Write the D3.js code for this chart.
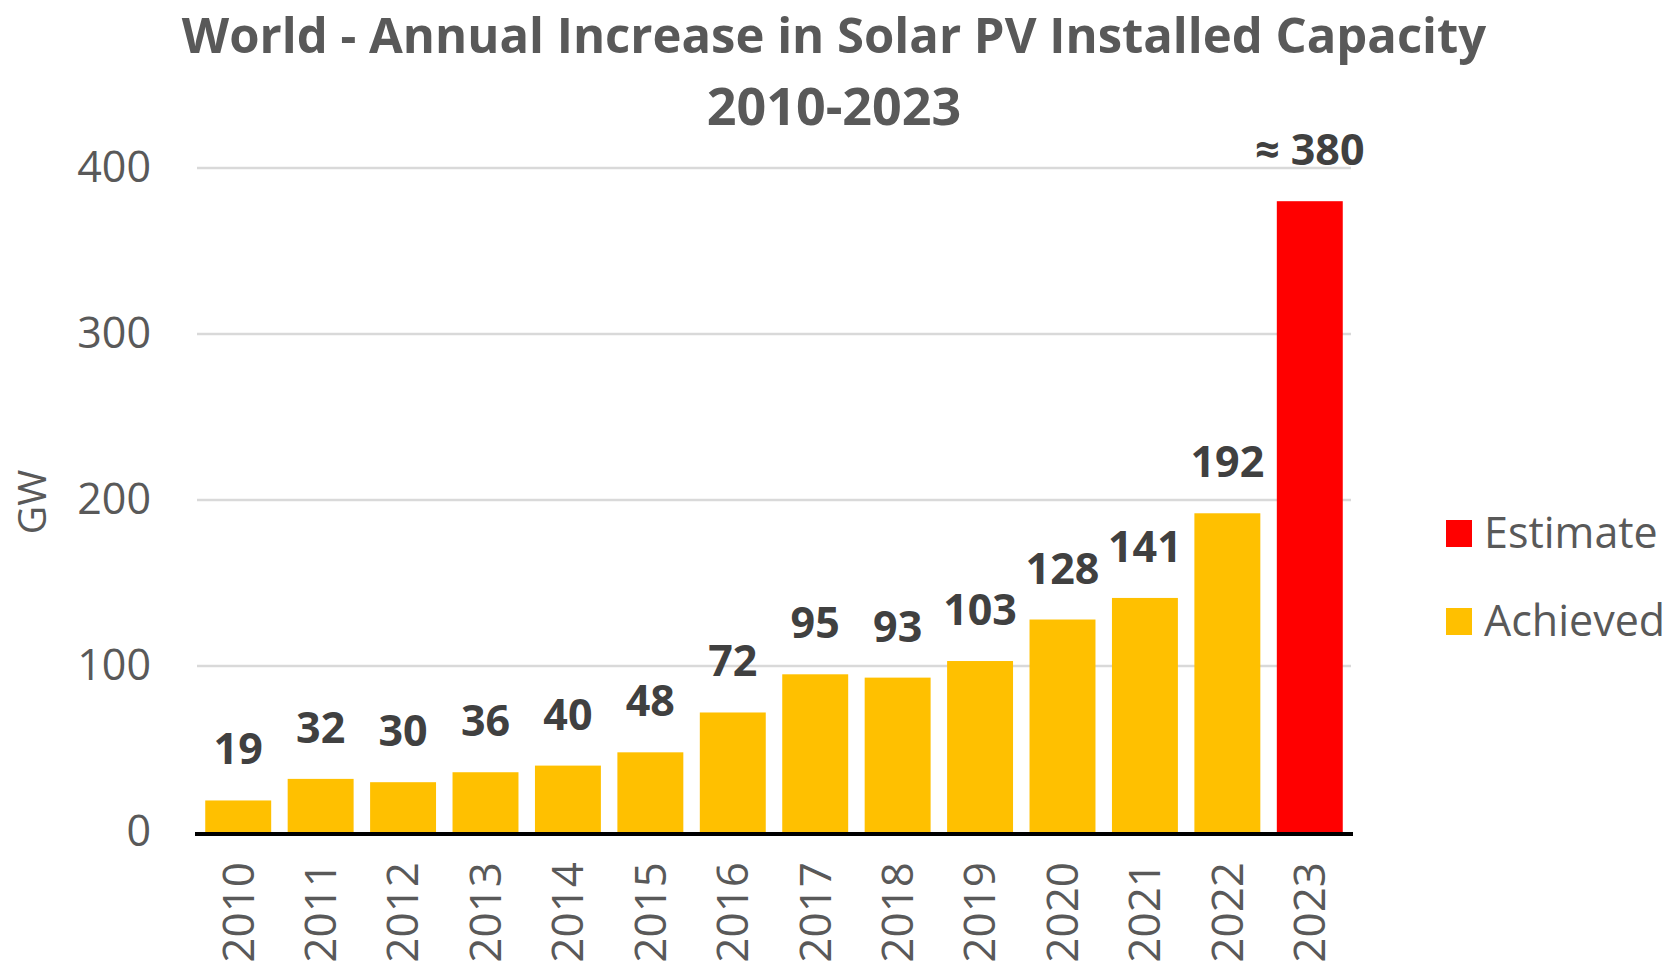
<!DOCTYPE html>
<html>
<head>
<meta charset="utf-8">
<script src="https://cdn.jsdelivr.net/npm/d3@7"></script>
<style>
  body { margin: 0; background: #fff; }
  svg { display: block; }
  text { font-family: "Open Sans", "Noto Sans", sans-serif; }
</style>
</head>
<body>
<div id="chart"></div>
<script>
// dados
const years = ["2010", "2011", "2012", "2013", "2014", "2015", "2016", "2017", "2018", "2019", "2020", "2021", "2022", "2023"];
const capacity = [19, 32, 30, 36, 40, 48, 72, 95, 93, 103, 128, 141, 192, 380];
const status = ["Achieved", "Achieved", "Achieved", "Achieved", "Achieved", "Achieved", "Achieved",
                "Achieved", "Achieved", "Achieved", "Achieved", "Achieved", "Achieved", "Estimate"];
const valueLabels = ["19", "32", "30", "36", "40", "48", "72", "95", "93", "103", "128", "141", "192", "≈ 380"];
const yTicks = [0, 100, 200, 300, 400];
const legendItems = ["Estimate", "Achieved"];
const titleLines = ["World - Annual Increase in Solar PV Installed Capacity", "2010-2023"];

const width = 1667, height = 963;
const colors = { Achieved: "#FFC000", Estimate: "#FF0000" };

const svg = d3.select("#chart").append("svg")
    .attr("width", width)
    .attr("height", height);

const x = d3.scaleBand()
    .domain(years)
    .range([197, 1351])
    .paddingInner(0.2)
    .paddingOuter(0.1);

const y = d3.scaleLinear()
    .domain([0, 400])
    .range([832, 168]);

// Título
svg.selectAll("text.title")
    .data(titleLines)
    .enter().append("text")
    .attr("class", "title")
    .attr("x", 834)
    .attr("y", (d, i) => 53 + i * 72)
    .attr("text-anchor", "middle")
    .attr("font-size", (d, i) => i === 0 ? 49 : 52)
    .attr("font-weight", "bold")
    .attr("fill", "#595959")
    .text(d => d);

// Grade horizontal
svg.selectAll("line.grid")
    .data(yTicks.filter(d => d > 0))
    .enter().append("line")
    .attr("class", "grid")
    .attr("x1", 197).attr("x2", 1351)
    .attr("y1", d => y(d)).attr("y2", d => y(d))
    .attr("stroke", "#D9D9D9")
    .attr("stroke-width", 2.5);

// Eixo Y (só os rótulos)
const yAxis = svg.append("g")
    .attr("transform", "translate(197,0)")
    .call(d3.axisLeft(y).tickValues(yTicks).tickSize(0).tickPadding(46));
yAxis.select(".domain").remove();
yAxis.selectAll("text")
    .attr("font-size", 43)
    .attr("font-family", "'Open Sans', sans-serif")
    .attr("fill", "#595959");

svg.append("text")
    .attr("transform", "translate(46,502) rotate(-90)")
    .attr("text-anchor", "middle")
    .attr("font-size", 39)
    .attr("fill", "#595959")
    .text("GW");

// Barras
svg.selectAll("rect.bar")
    .data(years)
    .enter().append("rect")
    .attr("class", "bar")
    .attr("x", d => x(d))
    .attr("width", x.bandwidth())
    .attr("y", (d, i) => y(capacity[i]))
    .attr("height", (d, i) => y(0) - y(capacity[i]))
    .attr("fill", (d, i) => colors[status[i]]);

// Rótulos de valor
svg.selectAll("text.value")
    .data(years)
    .enter().append("text")
    .attr("class", "value")
    .attr("x", d => x(d) + x.bandwidth() / 2)
    .attr("y", (d, i) => y(capacity[i]) - 36)
    .attr("text-anchor", "middle")
    .attr("font-size", 43)
    .attr("font-weight", "bold")
    .attr("fill", "#404040")
    .text((d, i) => valueLabels[i]);

// Eixo X
svg.append("line")
    .attr("x1", 195).attr("x2", 1353)
    .attr("y1", y(0) + 2).attr("y2", y(0) + 2)
    .attr("stroke", "#000")
    .attr("stroke-width", 4);

const xAxis = svg.append("g")
    .attr("transform", `translate(0,${y(0)})`)
    .call(d3.axisBottom(x).tickSize(0));
xAxis.select(".domain").remove();
xAxis.selectAll("text")
    .attr("transform", "rotate(-90)")
    .attr("x", -30)
    .attr("y", 0)
    .attr("dy", "0.35em")
    .attr("text-anchor", "end")
    .attr("font-size", 44)
    .attr("font-family", "'Open Sans', sans-serif")
    .attr("fill", "#595959");

// Legenda
const legend = svg.selectAll("g.legend")
    .data(legendItems)
    .enter().append("g")
    .attr("class", "legend")
    .attr("transform", (d, i) => `translate(1446,${520 + i * 88})`);

legend.append("rect")
    .attr("width", 26).attr("height", 27)
    .attr("fill", d => colors[d]);

legend.append("text")
    .attr("x", 38)
    .attr("y", 13)
    .attr("dy", "0.35em")
    .attr("font-size", 43)
    .attr("fill", "#595959")
    .text(d => d);
</script>
</body>
</html>
